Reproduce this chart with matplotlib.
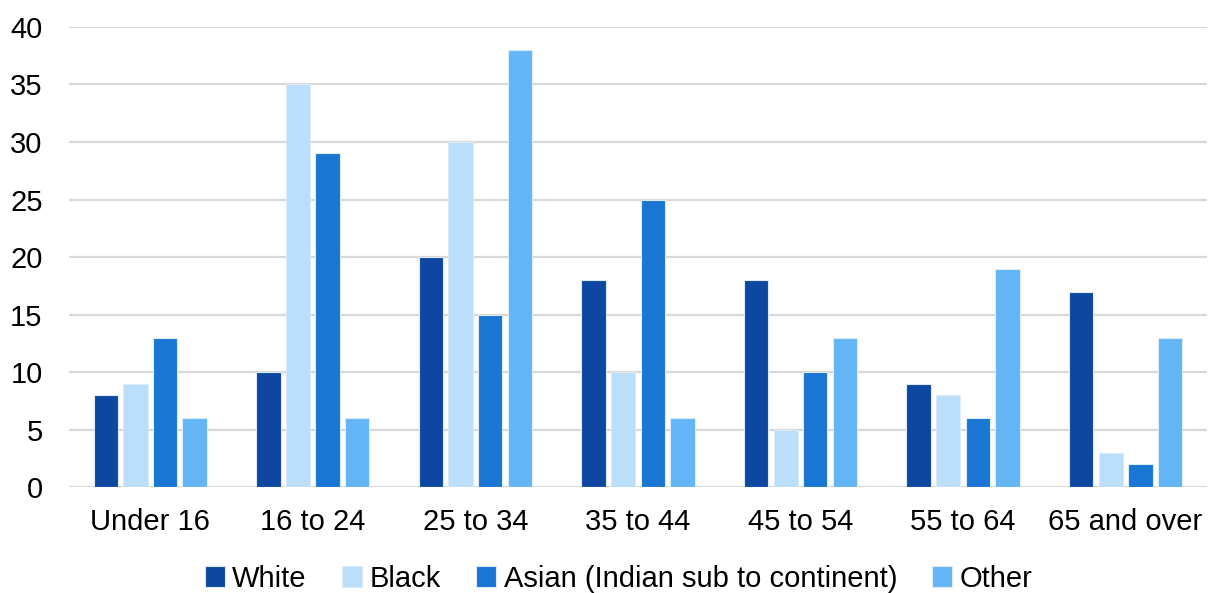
import numpy as np
import matplotlib.pyplot as plt

plt.rcParams['font.family'] = ['Liberation Sans', 'DejaVu Sans']

# data
categories = ['Under 16', '16 to 24', '25 to 34', '35 to 44', '45 to 54', '55 to 64', '65 and over']
series_names = ['White', 'Black', 'Asian (Indian sub to continent)', 'Other']
white = [8, 10, 20, 18, 18, 9, 17]
black = [9, 35, 30, 10, 5, 8, 3]
asian = [13, 29, 15, 25, 10, 6, 2]
other = [6, 6, 38, 6, 13, 19, 13]
colors = ['#0D47A1', '#BBDEFB', '#1976D2', '#64B5F6']

fig = plt.figure(figsize=(12.17, 5.93), dpi=100)
ax = fig.add_axes([0.0567, 0.1787, 0.935, 0.7758])

x = np.arange(len(categories))
step = 0.182
w = 0.15
for i, (vals, name) in enumerate(zip([white, black, asian, other], series_names)):
    ax.bar(x + (i - 1.5) * step, vals, width=w, color=colors[i], label=name,
           edgecolor='#DDEBF7', linewidth=0.8, zorder=3)

ax.set_ylim(0, 40)
ax.set_xlim(-0.5, len(categories) - 0.5)
ax.set_yticks(range(0, 41, 5))
ax.set_xticks(x)
ax.set_xticklabels(categories)
ax.grid(axis='y', color='#D9D9D9', linewidth=1.6, zorder=0)
ax.tick_params(axis='both', length=0, labelsize=21, colors='black')
ax.tick_params(axis='x', pad=15)
ax.tick_params(axis='y', pad=19)
for s in ax.spines.values():
    s.set_visible(False)

ax.legend(loc='upper center', bbox_to_anchor=(0.483, -0.137), ncol=4, frameon=False,
          fontsize=21, handlelength=0.7, handleheight=0.7, handletextpad=0.25,
          columnspacing=1.2, borderpad=0)

plt.savefig('out.png', dpi=100)
